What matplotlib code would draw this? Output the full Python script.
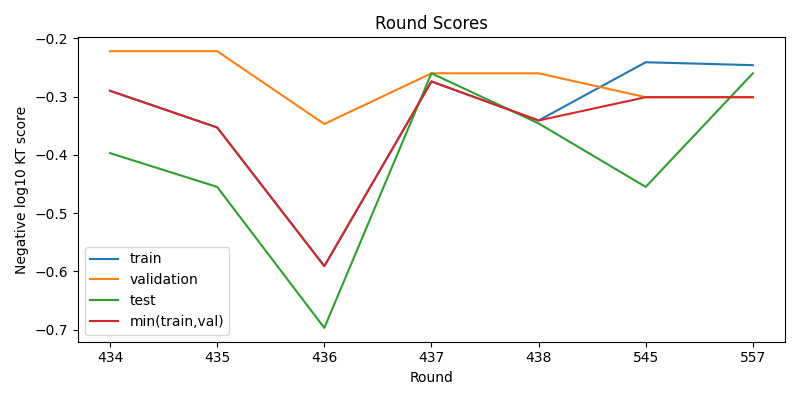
import matplotlib
matplotlib.use("Agg")
import matplotlib.pyplot as plt

rounds = ["434", "435", "436", "437", "438", "545", "557"]
train = [-0.290, -0.353, -0.591, -0.274, -0.341, -0.241, -0.246]
validation = [-0.222, -0.222, -0.347, -0.260, -0.260, -0.301, -0.301]
test = [-0.397, -0.455, -0.697, -0.260, -0.346, -0.455, -0.260]
min_train_val = [min(t, v) for t, v in zip(train, validation)]

fig, ax = plt.subplots(figsize=(8, 4), dpi=100)
ax.plot(rounds, train, label="train")
ax.plot(rounds, validation, label="validation")
ax.plot(rounds, test, label="test")
ax.plot(rounds, min_train_val, label="min(train,val)")
ax.set_title("Round Scores")
ax.set_xlabel("Round")
ax.set_ylabel("Negative log10 KT score")
ax.legend(loc="lower left")
fig.tight_layout()
fig.savefig("out.png")
